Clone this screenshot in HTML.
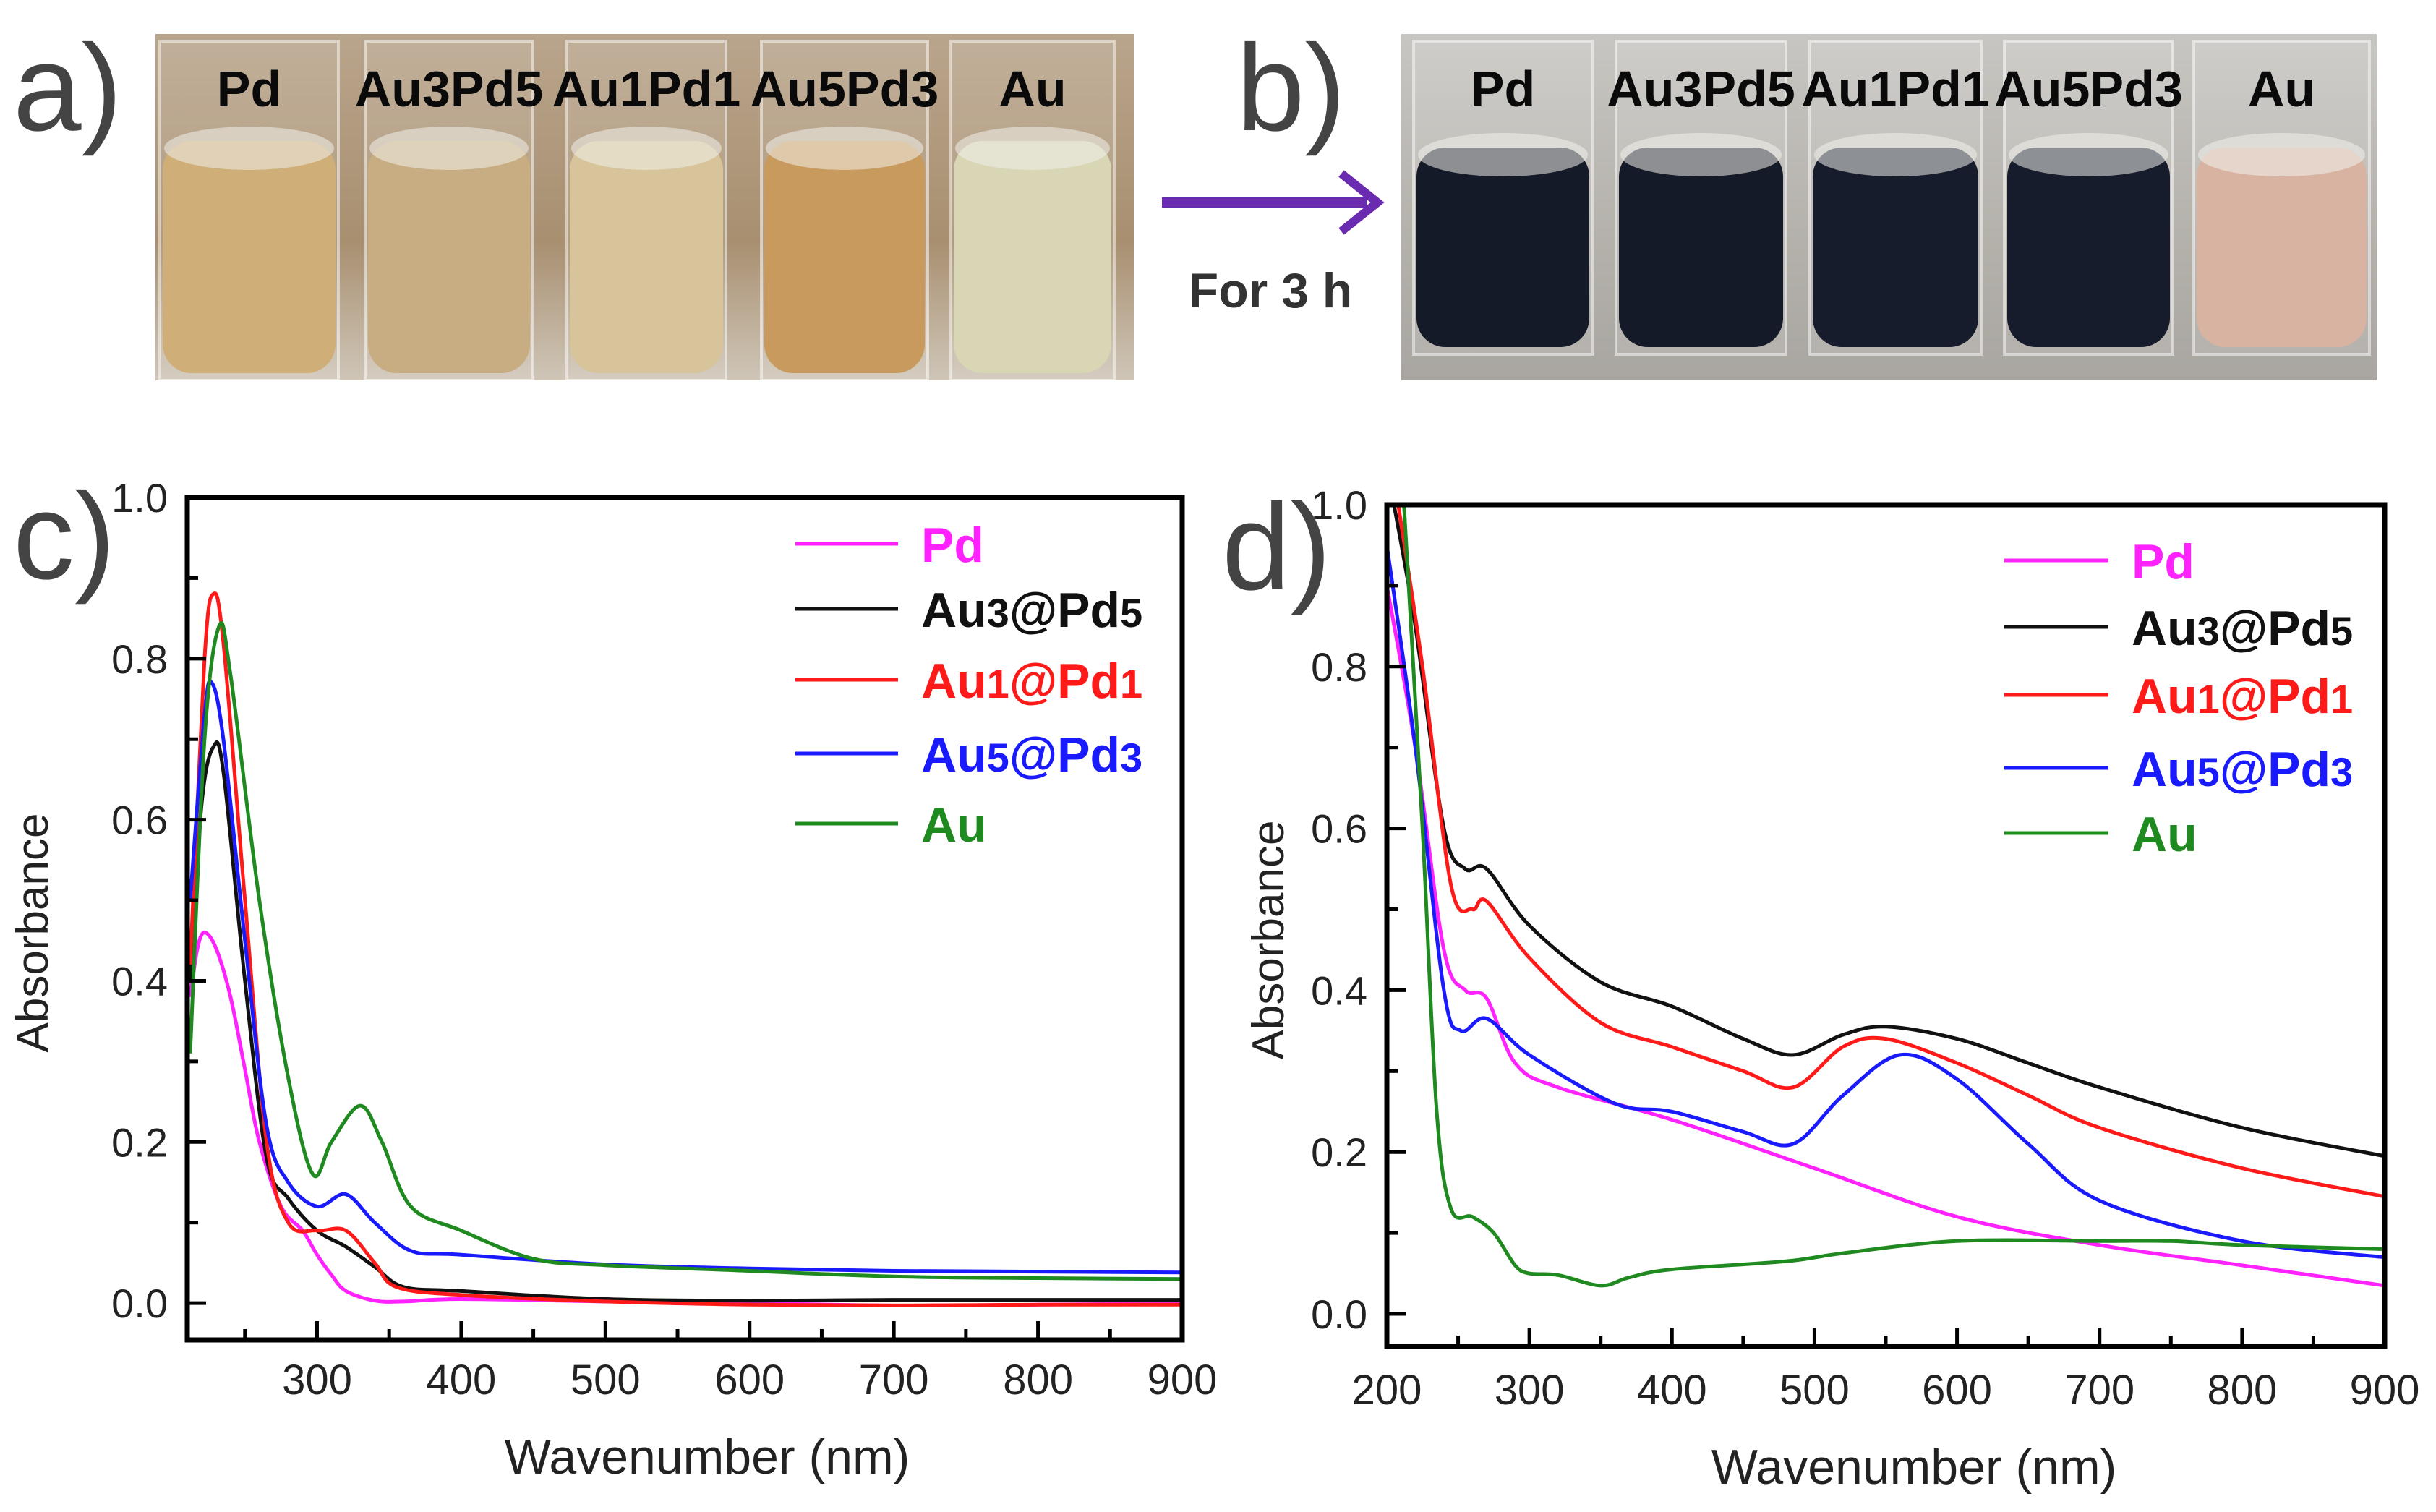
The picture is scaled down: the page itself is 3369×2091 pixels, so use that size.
<!DOCTYPE html>
<html><head><meta charset="utf-8"><style>
html,body{margin:0;padding:0;background:#fff;}
svg{display:block;font-family:"Liberation Sans",Arial,sans-serif;}
</style></head><body>
<svg id="fig" xmlns="http://www.w3.org/2000/svg" width="3369" height="2091" viewBox="0 0 3369 2091">
<defs>
<linearGradient id="bgA" x1="0" y1="0" x2="0" y2="1"><stop offset="0" stop-color="#b9a58c"/><stop offset="0.6" stop-color="#a88f70"/><stop offset="1" stop-color="#cfc6b8"/></linearGradient>
<linearGradient id="bgB" x1="0" y1="0" x2="0" y2="1"><stop offset="0" stop-color="#c8c6c2"/><stop offset="0.6" stop-color="#b4b1ab"/><stop offset="1" stop-color="#a9a6a1"/></linearGradient>
</defs>
<g id="photos"></g>
<g id="chartC"></g>
<g id="chartD"></g>
</svg>
<script>
// ---------- data: panel c ----------
const cPdX=[212,217,222,230,240,250,260,275,290,300,310,320,340,360,400,500,600,700,800,900];
const cPdY=[0.38,0.44,0.46,0.44,0.38,0.29,0.2,0.12,0.09,0.06,0.035,0.015,0.003,0.002,0.005,0.002,0.0,-0.003,-0.002,0.0];
const cA35X=[212,220,228,235,250,265,280,300,320,340,360,400,500,600,700,800,900];
const cA35Y=[0.4,0.62,0.69,0.66,0.4,0.18,0.13,0.09,0.07,0.045,0.02,0.015,0.005,0.003,0.004,0.004,0.004];
const cA11X=[212,222,228,235,250,265,280,300,320,340,355,400,500,600,700,800,900];
const cA11Y=[0.42,0.8,0.88,0.82,0.5,0.2,0.1,0.09,0.09,0.05,0.02,0.01,0.002,-0.002,-0.003,-0.002,-0.002];
const cA53X=[212,222,227,235,250,265,280,300,320,340,365,400,500,600,700,800,900];
const cA53Y=[0.5,0.73,0.77,0.7,0.45,0.22,0.15,0.12,0.135,0.1,0.065,0.06,0.048,0.043,0.04,0.039,0.038];
const cAuX=[212,222,232,240,260,280,297,310,330,345,365,400,450,500,600,700,800,900];
const cAuY=[0.31,0.7,0.84,0.78,0.5,0.28,0.16,0.2,0.245,0.2,0.12,0.09,0.055,0.047,0.04,0.033,0.031,0.03];
// ---------- data: panel d ----------
const dPdX=[200,220,240,255,270,290,320,400,500,600,700,800,900];
const dPdY=[0.9,0.7,0.45,0.4,0.39,0.31,0.28,0.24,0.18,0.12,0.085,0.06,0.035];
const dA35X=[205,220,240,255,270,300,350,400,450,485,520,550,600,650,700,800,900];
const dA35Y=[1.0,0.85,0.6,0.55,0.55,0.48,0.41,0.38,0.34,0.32,0.345,0.355,0.34,0.31,0.28,0.23,0.195];
const dA11X=[208,225,245,260,270,300,350,400,450,485,520,550,600,650,700,800,900];
const dA11Y=[1.0,0.8,0.53,0.5,0.51,0.44,0.36,0.33,0.3,0.28,0.33,0.34,0.31,0.27,0.23,0.18,0.145];
const dA53X=[200,220,240,252,270,300,360,400,450,485,520,560,600,650,700,800,900];
const dA53Y=[0.95,0.7,0.4,0.35,0.365,0.32,0.26,0.25,0.225,0.21,0.27,0.32,0.29,0.21,0.14,0.09,0.07];
const dAuX=[212,225,235,245,260,275,290,300,320,350,370,400,480,520,600,700,750,800,900];
const dAuY=[1.0,0.6,0.25,0.13,0.12,0.1,0.06,0.05,0.048,0.035,0.045,0.055,0.065,0.075,0.09,0.09,0.09,0.085,0.08];
const xTicks=["200","300","400","500","600","700","800","900"];
const yTicks=["0.0","0.2","0.4","0.6","0.8","1.0"];
const legendLabels=[["Pd",""],["Au","3","@Pd","5"],["Au","1","@Pd","1"],["Au","5","@Pd","3"],["Au"]];
const colors=["#ff22ff","#111111","#ff1a1a","#1a1aff","#1f8a1f"];

const NS="http://www.w3.org/2000/svg";
function mk(tag,attrs,parent){const e=document.createElementNS(NS,tag);for(const k in attrs)e.setAttribute(k,attrs[k]);if(parent)parent.appendChild(e);return e;}

// ---------- photos ----------
const ph=document.getElementById('photos');
function photo(x0,x1,y0,y1,bg,vials,liqTop,liqBot,labels,name){
  const g=mk('g',{},ph);
  
  
  mk('rect',{x:x0,y:y0,width:x1-x0,height:y1-y0,fill:bg},g);
  vials.forEach((v,i)=>{
    mk('rect',{x:v[0],y:y0+10,width:v[1]-v[0],height:liqBot-y0,fill:'rgba(255,255,255,0.12)',stroke:'rgba(255,255,255,0.5)','stroke-width':4},g);
    mk('rect',{x:v[0]+4,y:liqTop,width:v[1]-v[0]-8,height:liqBot-liqTop,rx:40,fill:v[2]},g);
    mk('ellipse',{cx:(v[0]+v[1])/2,cy:liqTop+10,rx:(v[1]-v[0])/2-6,ry:30,fill:'rgba(240,240,235,0.55)'},g);
    const t=mk('text',{x:(v[0]+v[1])/2,y:y0+100,'text-anchor':'middle','font-size':70,'font-weight':'bold',fill:'#0a0a0a'},g);
    
    
    t.textContent=labels[i];
  });
}
const vl=["Pd","Au3Pd5","Au1Pd1","Au5Pd3","Au"];
photo(215,1568,47,526,'url(#bgA)',[[221,468,'#cfae78'],[505,737,'#c8ad82'],[784,1004,'#d7c49a'],[1053,1283,'#c99a5e'],[1315,1541,'#d8d6b4']],195,516,vl,'photo-before');
photo(1938,3287,47,526,'url(#bgB)',[[1955,2202,'#141a27'],[2235,2470,'#141a27'],[2503,2740,'#161c2c'],[2772,3005,'#161c2c'],[3034,3277,'#d8b3a2']],204,480,vl,'photo-after');
let t;
t=mk('text',{x:18,y:180,'font-size':170,fill:'#444'},ph);t.textContent='a)';
t=mk('text',{x:1710,y:180,'font-size':170,fill:'#444'},ph);t.textContent='b)';
const ar=mk('g',{},ph);
mk('line',{x1:1607,y1:280,x2:1890,y2:280,stroke:'#6a2bb0','stroke-width':14},ar);
mk('polyline',{points:'1855,240 1905,280 1855,320',fill:'none',stroke:'#6a2bb0','stroke-width':12},ar);
t=mk('text',{x:1757,y:425,'text-anchor':'middle','font-size':68,'font-weight':'bold',fill:'#333'},ph);t.textContent='For 3 h';

// ---------- charts ----------
function chart(gid,box,xmin,xmax,ymin,ymax,series,xt,leg,lbl,labelPos,ytitle,xtitle,xlabY){
  const g=document.getElementById(gid);
  const [L,T,R,B]=box;
  const sx=v=>L+(v-xmin)/(xmax-xmin)*(R-L);
  const sy=v=>B-(v-ymin)/(ymax-ymin)*(B-T);
  const clip=mk('clipPath',{id:gid+'clip'},g);mk('rect',{x:L,y:T,width:R-L,height:B-T},clip);
  const sg=mk('g',{'clip-path':'url(#'+gid+'clip)'},g);
  series.forEach((s,i)=>{
    const X=s[0],Y=s[1];
    const P=X.map((x,j)=>[sx(x),sy(Y[j])]);
    let d='M'+P[0][0].toFixed(1)+','+P[0][1].toFixed(1);
    for(let j=0;j<P.length-1;j++){
      const p0=P[j-1]||P[j],p1=P[j],p2=P[j+1],p3=P[j+2]||p2;
      const c1=[p1[0]+(p2[0]-p0[0])/6,p1[1]+(p2[1]-p0[1])/6];
      const c2=[p2[0]-(p3[0]-p1[0])/6,p2[1]-(p3[1]-p1[1])/6];
      d+=` C${c1[0].toFixed(1)},${c1[1].toFixed(1)} ${c2[0].toFixed(1)},${c2[1].toFixed(1)} ${p2[0].toFixed(1)},${p2[1].toFixed(1)}`;
    }
    const p=mk('path',{d:d,fill:'none',stroke:colors[i],'stroke-width':5},sg);
    
    
  });
  const fr=mk('rect',{x:L,y:T,width:R-L,height:B-T,fill:'none',stroke:'#000','stroke-width':7},g);
  
  
  for(let v=0;v<=1000;v+=50){ if(v<xmin||v>xmax)continue;
    const major=v%100===0;
    mk('line',{x1:sx(v),y1:B,x2:sx(v),y2:B-(major?26:15),stroke:'#000','stroke-width':5},g);
  }
  xt.forEach(s=>{const v=+s;if(v<xmin)return;
    const tx=mk('text',{x:sx(v),y:xlabY,'text-anchor':'middle','font-size':58,fill:'#222'},g);
    
    
    tx.textContent=s;});
  for(let k=-1;k<=10;k++){const v=k/10;if(v<ymin||v>ymax)continue;
    mk('line',{x1:L,y1:sy(v),x2:L+(k%2===0?26:15),y2:sy(v),stroke:'#000','stroke-width':5},g);}
  yTicks.forEach(s=>{const v=+s;
    const ty=mk('text',{x:L-27,y:sy(v)+20,'text-anchor':'end','font-size':56,fill:'#222'},g);
    
    
    ty.textContent=s;});
  const yt=mk('text',{x:ytitle[0],y:ytitle[1],'text-anchor':'middle','font-size':62,fill:'#222',transform:`rotate(-90 ${ytitle[0]} ${ytitle[1]})`},g);
  
  
  yt.textContent='Absorbance';
  const xtt=mk('text',{x:xtitle[0],y:xtitle[1],'text-anchor':'middle','font-size':68,fill:'#222'},g);
  
  
  xtt.textContent='Wavenumber (nm)';
  const pl=mk('text',{x:labelPos[0],y:labelPos[1],'font-size':170,fill:'#444'},g);
  
  
  pl.textContent=lbl;
  leg.rows.forEach((ry,i)=>{
    const lg=mk('g',{},g);
    
    
    mk('line',{x1:leg.x0,y1:ry,x2:leg.x1,y2:ry,stroke:colors[i],'stroke-width':5},lg);
    const tx=mk('text',{x:leg.tx,y:ry+25,'font-size':68,'font-weight':'bold',fill:colors[i]},lg);
    const parts=legendLabels[i];
    parts.forEach((p,j)=>{if(!p)return;const ts=mk('tspan',{},tx);if(j%2===1){ts.setAttribute('font-size','56');}ts.textContent=p;});
  });
}
chart('chartC',[259,688,1635,1853],210,900,-0.0457,1.0,
 [[cPdX,cPdY],[cA35X,cA35Y],[cA11X,cA11Y],[cA53X,cA53Y],[cAuX,cAuY]],
 xTicks,{x0:1100,x1:1242,tx:1274,rows:[752,842,940,1042,1139]},'c)',[18,800],[66,1290],[978,2038],1928);
chart('chartD',[1918,698,3298,1862],200,900,-0.0402,1.0,
 [[dPdX,dPdY],[dA35X,dA35Y],[dA11X,dA11Y],[dA53X,dA53Y],[dAuX,dAuY]],
 xTicks,{x0:2772,x1:2916,tx:2948,rows:[775,867,961,1062,1152]},'d)',[1690,815],[1775,1300],[2647,2052],1942);
</script>
</body></html>
